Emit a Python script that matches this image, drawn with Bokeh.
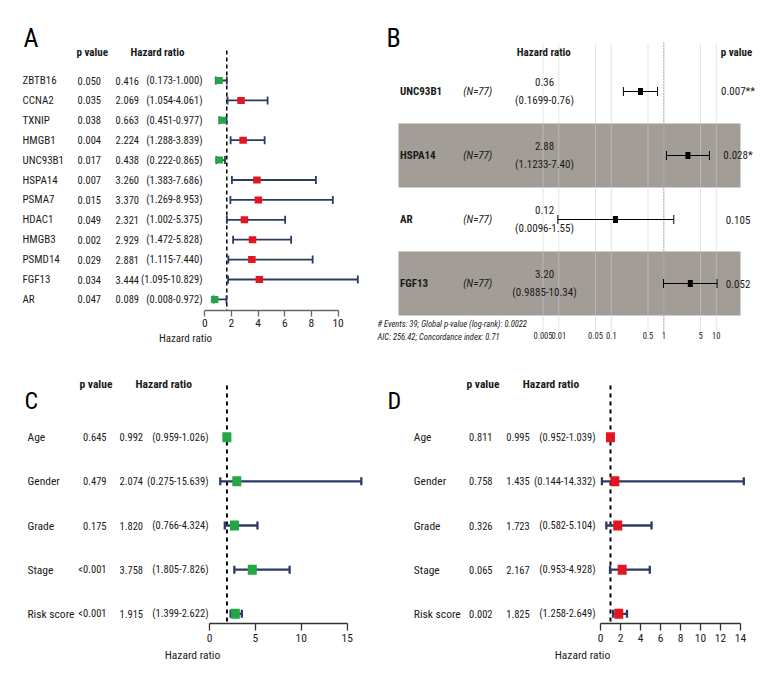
from bokeh.plotting import figure
from bokeh.models import Range1d, FixedTicker, ColumnDataSource, CustomJSTickFormatter
from bokeh.layouts import column, row
from bokeh.embed import file_html
from bokeh.resources import INLINE
from bokeh.core.properties import value

FONT = "Roboto Condensed, Liberation Sans Narrow, DejaVu Sans Condensed, Liberation Sans"
GREEN = "#22a744"
RED = "#e3161f"
NAVY = "#2c3a66"
TXT = "#1a1a1a"

# ---------------- data ----------------
a_genes = ["ZBTB16", "CCNA2", "TXNIP", "HMGB1", "UNC93B1", "HSPA14", "PSMA7",
           "HDAC1", "HMGB3", "PSMD14", "FGF13", "AR"]
a_p = ["0.050", "0.035", "0.038", "0.004", "0.017", "0.007", "0.015",
       "0.049", "0.002", "0.029", "0.034", "0.047"]
a_hr = [0.416, 2.069, 0.663, 2.224, 0.438, 3.260, 3.370, 2.321, 2.929, 2.881, 3.444, 0.089]
a_lo = [0.173, 1.054, 0.451, 1.288, 0.222, 1.383, 1.269, 1.002, 1.472, 1.115, 1.095, 0.008]
a_hi = [1.000, 4.061, 0.977, 3.839, 0.865, 7.686, 8.953, 5.375, 5.828, 7.440, 10.829, 0.972]
a_ticks = [0, 2, 4, 6, 8, 10]

b_genes = ["UNC93B1", "HSPA14", "AR", "FGF13"]
b_n = [77, 77, 77, 77]
b_hr = [0.36, 2.88, 0.12, 3.20]
b_lo = [0.1699, 1.1233, 0.0096, 0.9885]
b_hi = [0.76, 7.40, 1.55, 10.34]
b_p = ["0.007**", "0.028*", "0.105", "0.052"]
b_ticks = [0.005, 0.01, 0.05, 0.1, 0.5, 1, 5, 10]
b_events = 39
b_global_p = "0.0022"
b_aic = "256.42"
b_cindex = "0.71"

cd_vars = ["Age", "Gender", "Grade", "Stage", "Risk score"]
c_p = ["0.645", "0.479", "0.175", "<0.001", "<0.001"]
c_hr = [0.992, 2.074, 1.820, 3.758, 1.915]
c_lo = [0.959, 0.275, 0.766, 1.805, 1.399]
c_hi = [1.026, 15.639, 4.324, 7.826, 2.622]
c_ticks = [0, 5, 10, 15]

d_p = ["0.811", "0.758", "0.326", "0.065", "0.002"]
d_hr = [0.995, 1.435, 1.723, 2.167, 1.825]
d_lo = [0.952, 0.144, 0.582, 0.953, 1.258]
d_hi = [1.039, 14.332, 5.104, 4.928, 2.649]
d_ticks = [0, 2, 4, 6, 8, 10, 12, 14]


def forest(labels, pvals, hr, lo, hi, colors, cfg):
    W, H, MB = cfg["W"], cfg["H"], cfg["MB"]
    X0, SX, R0, RS = cfg["X0"], cfg["SX"], cfg["R0"], cfg["RS"]
    shift = cfg["shift"]
    n = len(labels)
    FH = H - MB

    def px2x(px):
        return (px - X0) / SX

    def py2y(py):
        return (n - 1) - (py - R0) / RS

    p = figure(width=W, height=H, x_range=Range1d(px2x(0), px2x(W)),
               y_range=Range1d(py2y(FH), py2y(0)), output_backend="svg",
               toolbar_location=None, y_axis_location=None,
               min_border_left=0, min_border_right=0, min_border_top=0,
               min_border_bottom=MB)
    p.frame_align = False
    p.outline_line_color = None
    p.grid.visible = False

    ys = [n - 1 - i for i in range(n)]
    ch = cfg["cap"] / 2 / RS
    src = ColumnDataSource(dict(
        y=ys, yl=[y - ch for y in ys], yh=[y + ch for y in ys],
        hr=[h + shift for h in hr], lo=[l + shift for l in lo], hi=[u + shift for u in hi],
        col=colors, name=labels, p=pvals,
        hrt=[f"{h:.3f}" for h in hr],
        cit=[f"({l:.3f}-{u:.3f})" for l, u in zip(lo, hi)]))

    # reference line at HR = 1
    p.segment(x0=[1 + shift], x1=[1 + shift], y0=[py2y(cfg["dash_top"])], y1=[py2y(FH)],
              line_color="black", line_width=cfg["dash_w"], line_dash=cfg["dash"])
    # error bars
    p.segment(x0="lo", x1="hi", y0="y", y1="y", source=src, line_color=NAVY, line_width=cfg["lw"])
    p.segment(x0="lo", x1="lo", y0="yl", y1="yh", source=src, line_color=NAVY, line_width=cfg["lw"])
    p.segment(x0="hi", x1="hi", y0="yl", y1="yh", source=src, line_color=NAVY, line_width=cfg["lw"])
    p.rect(x="hr", y="y", width=cfg["sq"][0], height=cfg["sq"][1], width_units="screen",
           height_units="screen", source=src, fill_color="col", line_color=None)

    common = dict(source=src, text_font=value(FONT), text_font_size=cfg["fs"],
                  text_baseline="middle", text_color=TXT)
    p.text(x=px2x(cfg["name_x"]), y="y", text="name", text_align="left", source=src,
           text_font=value(FONT), text_font_size=cfg["nfs"], text_baseline="middle",
           text_color=TXT)
    p.text(x=px2x(cfg["p_x"]), y="y", text="p", text_align=cfg["p_align"], **common)
    p.text(x=px2x(cfg["hr_x"]), y="y", text="hrt", text_align="left", **common)
    p.text(x=px2x(cfg["ci_x"]), y="y", text="cit", text_align="right", **common)

    hy = py2y(cfg["head_y"])
    p.text(x=[px2x(cfg["hp_x"]), px2x(cfg["hh_x"])], y=[hy, hy], text=["p value", "Hazard ratio"],
           text_font=value(FONT), text_font_size=cfg["hfs"], text_font_style="bold",
           text_baseline="middle", text_align="left", text_color=TXT)
    p.text(x=[px2x(cfg["let_x"])], y=[py2y(cfg["let_y"])], text=[cfg["letter"]],
           text_font=value(FONT), text_font_size=cfg["lfs"], text_baseline="alphabetic",
           text_align="left", text_color="black")

    ax = p.xaxis[0]
    ax.ticker = FixedTicker(ticks=cfg["ticks"])
    ax.bounds = (cfg["ticks"][0], cfg["ticks"][-1])
    ax.axis_label = "Hazard ratio"
    ax.axis_label_text_font = FONT
    ax.axis_label_text_font_style = "normal"
    ax.axis_label_text_font_size = cfg["afs"]
    ax.axis_label_text_color = TXT
    ax.axis_label_standoff = cfg["label_standoff"]
    ax.major_label_text_font = FONT
    ax.major_label_text_font_size = cfg["tfs"]
    ax.major_label_text_color = TXT
    ax.major_label_standoff = cfg["tick_standoff"]
    ax.minor_tick_line_color = None
    ax.major_tick_in = 0
    ax.major_tick_out = cfg["tick_out"]
    ax.axis_line_color = cfg["axc"]
    ax.major_tick_line_color = cfg["axc"]
    ax.axis_line_width = 1.3
    ax.major_tick_line_width = 1.3
    return p


cfg_a = dict(W=370, H=348, MB=38, X0=204.3, SX=13.33, R0=80, RS=19.9, shift=0.65,
             cap=8, lw=1.8, sq=(7.5, 7), dash_top=50, dash="4 3", dash_w=1.5,
             fs="10.5px", nfs="11px", hfs="11px", tfs="11.5px", afs="11px", lfs="26px",
             name_x=22, p_x=77, p_align="left", hr_x=115, ci_x=202,
             head_y=52, hp_x=76, hh_x=130, let_x=23, let_y=37, letter="A",
             ticks=a_ticks, label_standoff=2, tick_standoff=2, tick_out=6, axc="#666666")
pA = forest(a_genes, a_p, a_hr, a_lo, a_hi,
            [GREEN if h < 1 else RED for h in a_hr], cfg_a)

cfg_c = dict(W=384, H=348, MB=73, X0=209, SX=9.18, R0=436.7 - 348, RS=44.15, shift=0.9,
             cap=8, lw=2.3, sq=(9, 10), dash_top=37, dash="4 4", dash_w=2,
             fs="10.5px", nfs="11.5px", hfs="11.5px", tfs="11.5px", afs="11.5px", lfs="24px",
             name_x=27, p_x=106, p_align="right", hr_x=119, ci_x=208,
             head_y=35, hp_x=79, hh_x=135, let_x=24, let_y=52, letter="C",
             ticks=c_ticks, label_standoff=3, tick_standoff=3, tick_out=7, axc="#333333")
pC = forest(cd_vars, c_p, c_hr, c_lo, c_hi, [GREEN] * len(c_hr), cfg_c)

cfg_d = dict(W=396, H=348, MB=73, X0=600 - 384, SX=10.0, R0=436.7 - 348, RS=44.15, shift=0.0,
             cap=8, lw=2.3, sq=(9, 10), dash_top=37, dash="4 4", dash_w=2,
             fs="10.5px", nfs="11.5px", hfs="11.5px", tfs="11.5px", afs="11.5px", lfs="24px",
             name_x=413.3 - 384, p_x=492 - 384, p_align="right", hr_x=505.7 - 384, ci_x=595 - 384,
             head_y=35, hp_x=466 - 384, hh_x=522.3 - 384, let_x=387 - 384, let_y=52, letter="D",
             ticks=d_ticks, label_standoff=3, tick_standoff=3, tick_out=7, axc="#333333")
pD = forest(cd_vars, d_p, d_hr, d_lo, d_hi, [RED] * len(d_hr), cfg_d)

# ---------------- panel B ----------------
WB, HB = 410, 348
B_LEFT = 370          # absolute left of the figure
B_ONE = 663.3         # absolute x of HR = 1
B_DEC = 52.5          # px per decade
B_TOP = 16            # frame top
nb = len(b_genes)


def bx(px_abs):
    return 10 ** ((px_abs - B_ONE) / B_DEC)


def by(py):
    return nb - (py - 91) / 64.0


pB = figure(width=WB, height=HB, x_axis_type="log", x_axis_location="above",
            x_range=Range1d(bx(B_LEFT), bx(B_LEFT + WB)), y_range=Range1d(by(HB), by(B_TOP)),
            output_backend="svg", toolbar_location=None, y_axis_location=None,
            min_border_left=0, min_border_right=0, min_border_top=B_TOP, min_border_bottom=0)
pB.frame_align = False
pB.outline_line_color = None
pB.grid.visible = False

yb = [nb - i for i in range(nb)]
shade = [i % 2 == 1 for i in range(nb)]
bsrc = ColumnDataSource(dict(
    y=yb, hr=b_hr, lo=b_lo, hi=b_hi, name=b_genes,
    nt=[f"(N={n})" for n in b_n],
    hrt=[f"{h:.2f}" for h in b_hr],
    cit=[f"({l:.4f}-{u:.2f})" for l, u in zip(b_lo, b_hi)],
    p=b_p,
    yt=[y + 9.3 / 64 for y in yb], yc=[y - 9.3 / 64 for y in yb],
    yl=[y - 4.5 / 64 for y in yb], yh=[y + 4.5 / 64 for y in yb]))

sy = [y for y, s in zip(yb, shade) if s]
pB.quad(left=bx(398), right=bx(740), bottom=[y - 0.5 for y in sy], top=[y + 0.5 for y in sy],
        fill_color="#a39d98", line_color=None)
# vertical grid lines at the tick values (drawn over the shading, semi-transparent)
pB.segment(x0=b_ticks, x1=b_ticks, y0=by(43), y1=by(331),
           line_color="#cdcdcd", line_alpha=0.55, line_width=1)
# reference line at HR = 1
pB.segment(x0=[1], x1=[1], y0=[by(42)], y1=[by(331)], line_color="#8f8f8f",
           line_dash="1 2", line_width=1.2)

pB.segment(x0="lo", x1="hi", y0="y", y1="y", source=bsrc, line_color="black", line_width=1)
pB.segment(x0="lo", x1="lo", y0="yl", y1="yh", source=bsrc, line_color="black", line_width=1)
pB.segment(x0="hi", x1="hi", y0="yl", y1="yh", source=bsrc, line_color="black", line_width=1)
pB.rect(x="hr", y="y", width=5, height=7, width_units="screen", height_units="screen",
        source=bsrc, fill_color="black", line_color=None)

bcom = dict(source=bsrc, text_font=value(FONT), text_font_size="11px",
            text_baseline="middle", text_color=TXT)
pB.text(x=bx(399.5), y="y", text="name", text_align="left", text_font_style="bold", **bcom)
pB.text(x=bx(462.7), y="y", text="nt", text_align="left", text_font_style="italic", **bcom)
pB.text(x=bx(544), y="yt", text="hrt", text_align="center", **bcom)
pB.text(x=bx(544), y="yc", text="cit", text_align="center", **bcom)
pB.text(x=bx(737.5), y="y", text="p", text_align="center", **bcom)
pB.text(x=[bx(543.3), bx(736)], y=[by(52), by(52)], text=["Hazard ratio", "p value"],
        text_font=value(FONT), text_font_size="11px", text_font_style="bold",
        text_baseline="middle", text_align="center", text_color=TXT)

pB.text(x=[bx(386)], y=[by(37)], text=["B"], text_font=value(FONT), text_font_size="26px",
        text_baseline="alphabetic", text_align="left", text_color="black")
pB.text(x=[bx(377), bx(377)], y=[by(323), by(336)],
        text=[f"# Events: {b_events}; Global p-value (log-rank): {b_global_p}",
              f"AIC: {b_aic}; Concordance index: {b_cindex}"],
        text_font=value(FONT), text_font_size="8.5px", text_font_style="italic",
        text_baseline="middle", text_align="left", text_color=TXT)

axb = pB.xaxis[0]
axb.fixed_location = by(339)
axb.ticker = FixedTicker(ticks=b_ticks)
axb.formatter = CustomJSTickFormatter(code="return String(tick);")
axb.axis_line_color = None
axb.major_tick_line_color = None
axb.minor_tick_line_color = None
axb.major_tick_out = 0
axb.major_tick_in = 0
axb.major_label_standoff = 1
axb.major_label_text_font = FONT
axb.major_label_text_font_size = "8.5px"
axb.major_label_text_color = TXT

layout = column(row(pA, pB), row(pC, pD))
open("out.html", "w").write(file_html(layout, INLINE))
